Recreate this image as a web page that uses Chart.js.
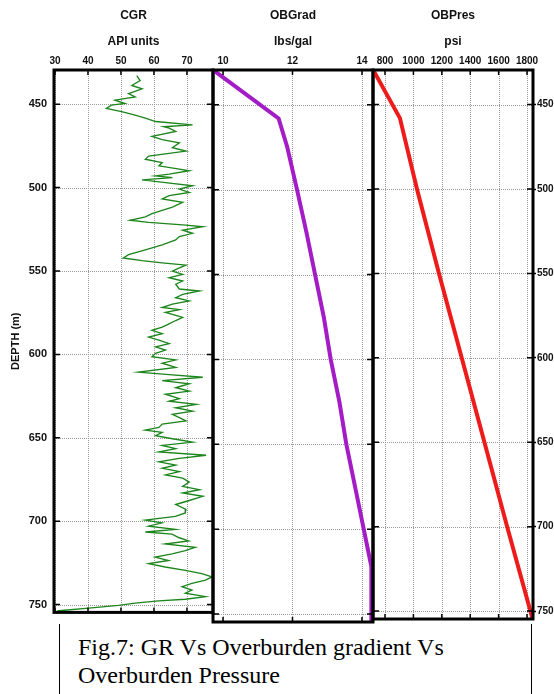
<!DOCTYPE html>
<html>
<head>
<meta charset="utf-8">
<script src="https://cdn.jsdelivr.net/npm/chart.js@4.4.0/dist/chart.umd.min.js"></script>
<style>
  body { margin: 0; background: #fff; width: 554px; height: 694px; overflow: hidden; position: relative; }
  canvas { position: absolute; top: 0; }
  #c1 { left: 0; }
  #c2 { left: 210px; }
  #c3 { left: 370px; }
  .caption {
    position: absolute; left: 59px; top: 624px; width: 473px; height: 80px;
    border-left: 1.5px solid #000; border-right: 1.5px solid #000; background: #fff;
    font-family: "Liberation Serif", "Times New Roman", serif; font-size: 24px; line-height: 27.6px;
    padding: 10px 0 0 18px; box-sizing: border-box; color: #000;
  }
</style>
</head>
<body>
<canvas id="c1" width="216" height="626"></canvas>
<canvas id="c2" width="166" height="626"></canvas>
<canvas id="c3" width="187" height="626"></canvas>
<div class="caption">Fig.7: GR Vs Overburden gradient Vs<br>Overburden Pressure</div>
<script>
// depth axis (m)
const depthMin = 429.5, depthMax = 754.7;
const depthTicks = [450, 500, 550, 600, 650, 700, 750];

// CGR log (API units)
const cgrDepth = [432.9, 435.8, 438.8, 440.8, 443.7, 445.7, 447.6, 449.6, 450.6, 452.5, 454.5, 456.5, 458.4, 460.4, 462.4, 463.5, 464.3, 466.3, 469.3, 471.2,
  473.2, 476.1, 478.1, 481.1, 483.0, 485.0, 487.0, 488.9, 489.9, 491.9, 493.0, 494.0, 495.4, 497.0, 498.9, 500.9, 502.9, 504.8, 506.8, 508.8,
  511.7, 513.7, 515.6, 517.6, 519.6, 520.9, 522.5, 523.5, 525.5, 527.4, 529.4, 531.4, 534.3, 537.3, 540.2, 542.2, 543.8, 545.1, 546.5, 548.1,
  550.1, 552.0, 554.0, 556.0, 557.9, 560.8, 562.0, 564.0, 566.0, 567.9, 569.9, 571.9, 573.2, 574.8, 577.8, 579.7, 581.7, 583.7, 585.6, 587.6,
  589.6, 591.5, 593.5, 595.5, 597.4, 599.4, 601.4, 603.3, 605.3, 607.8, 610.6, 612.1, 613.7, 615.7, 617.6, 620.0, 622.0, 623.9, 626.5, 628.1,
  630.0, 632.0, 634.0, 635.9, 637.9, 639.9, 641.8, 643.8, 645.4, 646.7, 648.7, 650.6, 652.6, 654.6, 656.5, 658.5, 660.5, 662.4, 664.4, 666.4,
  668.3, 670.3, 672.3, 674.2, 676.6, 679.2, 681.1, 683.1, 685.1, 687.6, 690.0, 692.9, 695.1, 697.1, 699.4, 701.0, 703.0, 704.9, 706.5, 707.8,
  709.8, 711.8, 713.7, 715.7, 717.7, 719.6, 721.6, 723.6, 725.5, 727.5, 729.5, 731.4, 733.4, 735.4, 737.3, 739.3, 741.3, 743.2, 745.2, 746.8,
  747.8, 749.1, 750.5, 752.1, 753.7, 754.5];
const cgrValue = [54.8, 55.8, 53.3, 56.4, 52.3, 54.3, 48.2, 51.2, 47.1, 45.6, 50.2, 54.3, 57.4, 60.5, 71.7, 63.0, 64.6, 66.6, 59.4, 62.5,
  67.7, 65.6, 69.7, 58.4, 57.4, 62.5, 61.5, 67.7, 70.7, 64.6, 60.5, 65.6, 56.4, 63.5, 71.7, 67.7, 70.7, 64.6, 62.5, 68.7,
  65.6, 62.5, 59.4, 57.4, 52.8, 58.4, 69.7, 74.8, 68.7, 71.7, 67.7, 66.6, 62.5, 57.4, 52.3, 50.7, 56.4, 62.5, 69.7, 67.7,
  65.6, 68.7, 64.6, 68.7, 66.6, 67.7, 73.8, 68.7, 66.6, 70.7, 65.6, 62.5, 67.7, 63.5, 68.7, 66.6, 64.6, 62.5, 59.4, 62.5,
  58.4, 61.5, 64.6, 60.5, 63.5, 60.5, 59.4, 66.6, 62.5, 66.6, 55.3, 64.6, 74.8, 62.5, 70.7, 66.6, 70.7, 63.5, 67.7, 64.6,
  72.8, 66.6, 71.7, 65.6, 67.7, 69.7, 62.5, 61.5, 57.4, 62.5, 60.5, 65.6, 71.7, 62.5, 66.6, 61.5, 75.8, 67.7, 61.5, 66.6,
  62.5, 67.7, 63.5, 68.7, 70.7, 68.7, 73.8, 68.7, 74.8, 70.7, 66.6, 69.7, 69.5, 66.5, 57.4, 62.4, 58.4, 66.5, 57.4, 65.5,
  67.5, 70.5, 63.4, 72.5, 69.5, 65.5, 60.4, 64.4, 58.4, 63.4, 69.5, 74.5, 77.6, 75.6, 71.5, 68.5, 71.5, 69.5, 75.6, 69.5,
  61.4, 54.3, 49.3, 40.2, 31.1, 30.1];
const cgrTicks = [30, 40, 50, 60, 70];

// overburden gradient (lbs/gal)
const obgDepth = [430, 458, 475, 500, 525, 550, 575, 600, 625, 650, 675, 700, 722, 755];
const obgValue = [9.75, 11.6, 11.85, 12.13, 12.4, 12.65, 12.9, 13.1, 13.35, 13.55, 13.8, 14.05, 14.27, 14.27];
const obgTicks = [10, 12, 14];

// overburden pressure (psi)
const obpDepth = [430, 458, 500, 550, 600, 650, 700, 755];
const obpValue = [720, 905, 1025, 1180, 1340, 1500, 1660, 1840];
const obpTicks = [800, 1000, 1200, 1400, 1600, 1800];

Chart.defaults.font.family = '"Liberation Sans", Arial, sans-serif';
Chart.defaults.color = '#111';
Chart.defaults.animation = false;

// dotted grid at the tick values of both scales
const gridPlugin = {
  id: 'dotgrid',
  beforeDatasetsDraw(chart) {
    const { ctx, chartArea: a, scales } = chart;
    ctx.save();
    ctx.strokeStyle = '#9a9a9a';
    ctx.lineWidth = 1;
    ctx.setLineDash([1, 1]);
    ctx.beginPath();
    scales.x.ticks.forEach(t => {
      const px = Math.round(scales.x.getPixelForValue(t.value)) + 0.5;
      ctx.moveTo(px, a.top); ctx.lineTo(px, a.bottom);
    });
    scales.y.ticks.forEach(t => {
      const py = Math.round(scales.y.getPixelForValue(t.value)) + 0.5;
      ctx.moveTo(a.left, py); ctx.lineTo(a.right, py);
    });
    ctx.stroke();
    ctx.restore();
  }
};

// thick frame + inner tick marks
const framePlugin = {
  id: 'frame',
  afterDraw(chart) {
    const { ctx, chartArea: a, scales } = chart;
    ctx.save();
    ctx.strokeStyle = '#000';
    ctx.lineWidth = 1.5;
    ctx.beginPath();
    scales.x.ticks.forEach(t => {
      const px = scales.x.getPixelForValue(t.value);
      ctx.moveTo(px, a.top); ctx.lineTo(px, a.top + 5);
      ctx.moveTo(px, a.bottom); ctx.lineTo(px, a.bottom - 5);
    });
    scales.y.ticks.forEach(t => {
      const py = scales.y.getPixelForValue(t.value);
      ctx.moveTo(a.left, py); ctx.lineTo(a.left + 6, py);
      ctx.moveTo(a.right, py); ctx.lineTo(a.right - 6, py);
    });
    ctx.stroke();
    ctx.lineWidth = 3;
    ctx.strokeRect(a.left, a.top, a.right - a.left, a.bottom - a.top);
    ctx.restore();
  }
};

function topScale(min, max, vals) {
  return {
    type: 'linear', position: 'top', min: min, max: max,
    afterBuildTicks: s => { s.ticks = vals.map(v => ({ value: v })); },
    grid: { display: false, drawTicks: false },
    border: { display: false },
    ticks: { font: { size: 10, weight: 'bold' }, padding: 3, maxRotation: 0, autoSkip: false, callback: v => String(v) },
    afterFit: s => { s.height = 15; }
  };
}

function depthScale(extra) {
  return Object.assign({
    type: 'linear', reverse: true, min: depthMin, max: depthMax,
    afterBuildTicks: s => { s.ticks = depthTicks.map(v => ({ value: v })); },
    grid: { display: false, drawTicks: false },
    border: { display: false },
    ticks: { display: false },
    afterFit: s => { s.width = 0; }
  }, extra);
}

function makePanel(id, title, unit, depths, values, color, width, xScale, yScale, pad, extraScales) {
  const scales = Object.assign({ x: xScale, y: yScale }, extraScales || {});
  return new Chart(document.getElementById(id), {
    type: 'scatter',
    data: {
      datasets: [{
        data: depths.map((d, i) => ({ x: values[i], y: d })),
        showLine: true, borderColor: color, borderWidth: width,
        pointRadius: 0, tension: 0
      }]
    },
    options: {
      responsive: false,
      layout: { padding: pad },
      scales: scales,
      plugins: {
        legend: { display: false },
        tooltip: { enabled: false },
        title: { display: true, text: title, fullSize: false, font: { size: 12, weight: 'bold' }, padding: { top: 8, bottom: 4 } },
        subtitle: { display: true, text: unit, fullSize: false, font: { size: 12, weight: 'bold' }, padding: { top: 8, bottom: 6.2 } }
      }
    },
    plugins: [gridPlugin, framePlugin]
  });
}

makePanel('c1', 'CGR', 'API units', cgrDepth, cgrValue, '#1c851c', 1.35,
  topScale(29.7, 77.9, cgrTicks),
  depthScale({
    ticks: { display: true, font: { size: 11, weight: 'bold' }, padding: 7 },
    title: { display: true, text: 'DEPTH (m)', font: { size: 11, weight: 'bold' }, padding: { top: 9, bottom: 0 } },
    afterFit: s => { s.width = 54; }
  }),
  { left: 0, right: 3, top: 0, bottom: 4 });

makePanel('c2', 'OBGrad', 'lbs/gal', obgDepth, obgValue, '#a31cc6', 4,
  topScale(9.712, 14.317, obgTicks),
  depthScale({}),
  { left: 3, right: 3, top: 0, bottom: 4 });

makePanel('c3', 'OBPres', 'psi', obpDepth, obpValue, '#ee1b1b', 4,
  topScale(715.5, 1842, obpTicks),
  depthScale({}),
  { left: 3, right: 0, top: 0, bottom: 4 },
  {
    y2: {
      type: 'linear', position: 'right', reverse: true, min: depthMin, max: depthMax,
      afterBuildTicks: s => { s.ticks = depthTicks.map(v => ({ value: v })); },
      grid: { drawOnChartArea: false, tickLength: 3, tickColor: '#000', tickWidth: 1.5 },
      border: { display: false },
      ticks: { font: { size: 10, weight: 'bold' }, padding: 1 },
      afterFit: s => { s.width = 24; }
    }
  });
</script>
</body>
</html>
